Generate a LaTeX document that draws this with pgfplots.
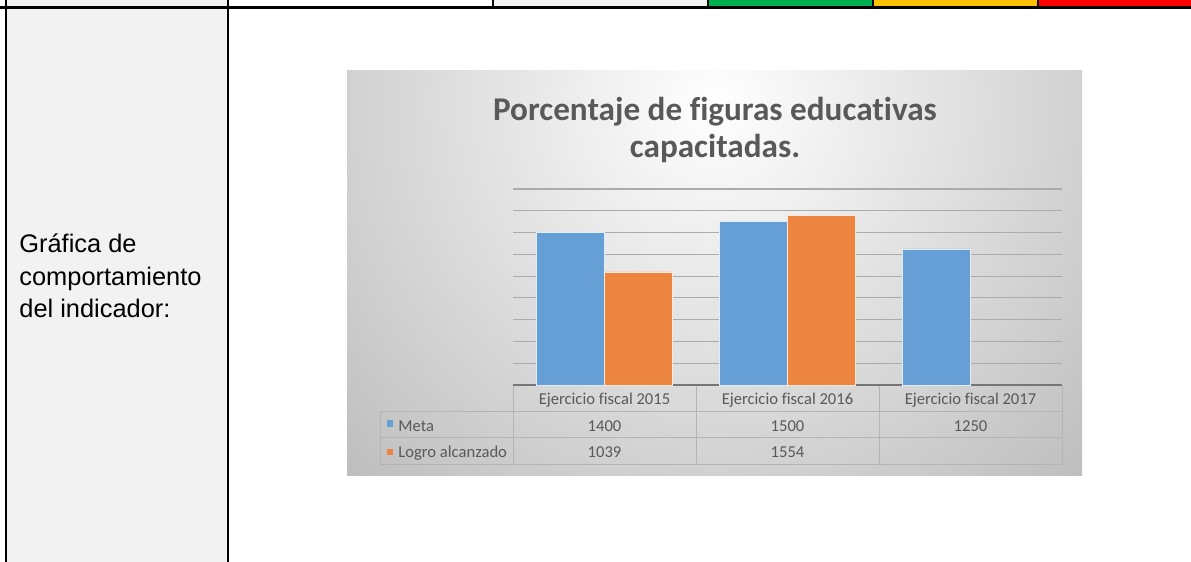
\documentclass[border=0pt]{standalone}
\usepackage{fontspec}
\setmainfont{Liberation Sans}
\newfontfamily\calibri[Ligatures=NoCommon]{Carlito}
\usepackage{pgfplots}
\pgfplotsset{compat=1.18}
\definecolor{metablue}{HTML}{659FD6}
\definecolor{logroorange}{HTML}{EC8540}
\definecolor{cellgray}{HTML}{F2F2F2}
\definecolor{semgreen}{HTML}{00B050}
\definecolor{semyellow}{HTML}{FFC000}
\definecolor{semred}{HTML}{FF0000}
\definecolor{txtgray}{HTML}{595959}
\definecolor{gridgray}{HTML}{ABABAB}
\definecolor{tblgray}{HTML}{B4B4B4}
\definecolor{basegray}{HTML}{767676}

\begin{document}
\begin{tikzpicture}
% page frame, 1 unit = 1 px of the reference
\begin{scope}[x=0.5pt,y=-0.5pt]
  \useasboundingbox (0,0) rectangle (1191,562);
  \fill[cellgray] (6,0) rectangle (228,562);
  \fill[cellgray] (493,0) rectangle (708,7);
  \fill[semgreen] (708,0) rectangle (872.5,7);
  \fill[semyellow] (872.5,0) rectangle (1037.5,7);
  \fill[semred] (1037.5,0) rectangle (1191,7);
  \draw[line width=1.25pt] (0,7.7) -- (1191,7.7);
  \draw[line width=1pt] (5.8,0) -- (5.8,562);
  \draw[line width=1pt] (227.7,0) -- (227.7,562);
  \foreach \x in {493.3,708.2,872.7,1037.5}
    \draw[line width=1pt] (\x,0) -- (\x,7.7);

  \begin{scope}[every node/.style={anchor=base west, inner sep=0pt,
      font=\fontsize{12.7}{16}\selectfont}]
    \node at (19,252) {Gráfica de};
    \node at (19,285) {comportamiento};
    \node at (19,317) {del indicador:};
  \end{scope}

  % chart background
  \begin{scope}
    \clip (347,70) rectangle (1082,475);
    \shade[inner color=white, outer color=gray!55] (715,105) circle (560);
  \end{scope}

  \begin{scope}[every node/.style={anchor=base, inner sep=0pt, text=txtgray,
      font=\calibri\bfseries\fontsize{16.6}{20}\selectfont}]
    \node at (715,120.7) {Porcentaje de figuras educativas};
    \node at (715,157.5) {capacitadas.};
  \end{scope}
\end{scope}

\begin{axis}[
    at={(256.5pt,-192.5pt)}, anchor=south west,
    scale only axis, width=274.5pt, height=98pt,
    ybar=0pt, bar width=34pt,
    xmin=-0.5, xmax=2.5, ymin=0, ymax=1800,
    xtick=\empty,
    ytick={200,400,...,1800}, yticklabels={}, ytick style={draw=none},
    ymajorgrids, grid style={gridgray, line width=0.6pt},
    axis x line*=bottom, axis y line*=left,
    y axis line style={draw=none},
    x axis line style={draw=basegray, line width=1pt},
    clip=false,
  ]
  \addplot[fill=metablue, draw=white!80!metablue, line width=0.3pt]
    coordinates {(0,1400) (1,1500) (2,1250)};
  \addplot[fill=logroorange, draw=white!80!logroorange, line width=0.3pt]
    coordinates {(0,1039) (1,1554)};
\end{axis}

% data table under the chart
\begin{scope}[x=0.5pt,y=-0.5pt]
  \begin{scope}[tblgray, line width=0.5pt]
    \draw (380,411.5) -- (1062,411.5);
    \draw (380,437.5) -- (1062,437.5);
    \draw (380,464) -- (1062,464);
    \draw (380,411.5) -- (380,464);
    \foreach \x in {513,696,879,1062} \draw (\x,386) -- (\x,464);
  \end{scope}
  \begin{scope}[every node/.style={anchor=base, inner sep=0pt, text=txtgray,
      font=\calibri\fontsize{8.3}{10}\selectfont}]
    \node at (604.5,404.3) {Ejercicio fiscal 2015};
    \node at (787.5,404.3) {Ejercicio fiscal 2016};
    \node at (970.5,404.3) {Ejercicio fiscal 2017};
    \node at (604.5,431) {1400};
    \node at (787.5,431) {1500};
    \node at (970.5,431) {1250};
    \node at (604.5,457.3) {1039};
    \node at (787.5,457.3) {1554};
    \node[anchor=base west] at (398,431) {Meta};
    \node[anchor=base west] at (398,457.3) {Logro alcanzado};
  \end{scope}
  \fill[metablue] (386.7,420) rectangle (392.7,426.5);
  \fill[logroorange] (386.7,448.5) rectangle (392.7,455);
\end{scope}
\end{tikzpicture}
\end{document}
